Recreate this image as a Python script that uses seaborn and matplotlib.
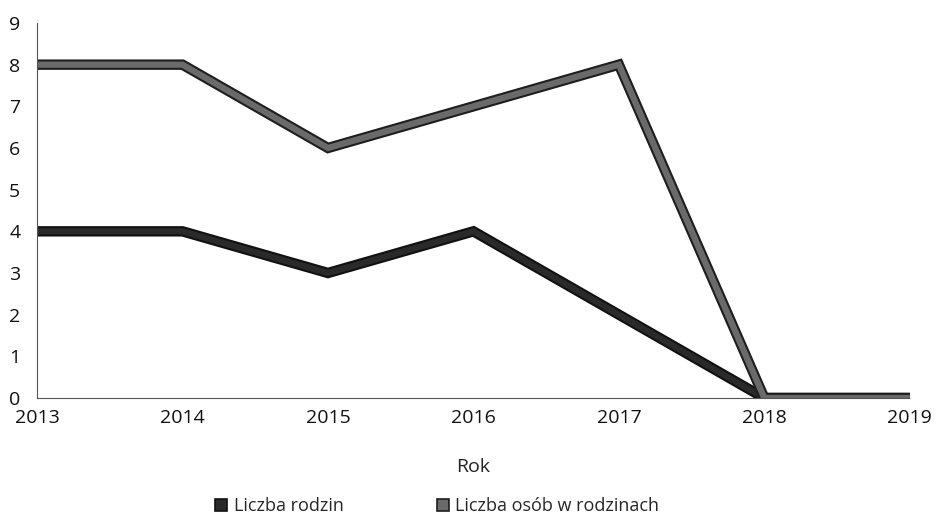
import matplotlib
matplotlib.use("Agg")
import matplotlib.pyplot as plt
import matplotlib.patheffects as pe
from matplotlib.lines import Line2D
import seaborn as sns
import pandas as pd

years = [2013, 2014, 2015, 2016, 2017, 2018, 2019]
rodziny = [4, 4, 3, 4, 2, 0, 0]
osoby = [8, 8, 6, 7, 8, 0, 0]
series_names = ["Liczba rodzin", "Liczba osób w rodzinach"]
yticks = list(range(0, 10))

sns.set_theme(style="white")
plt.rcParams['font.family'] = ['Open Sans', 'DejaVu Sans']

df = pd.DataFrame({
    "Rok": years * 2,
    "value": rodziny + osoby,
    "series": [series_names[0]] * len(years) + [series_names[1]] * len(years),
})

fig = plt.figure(figsize=(9.37, 5.2), dpi=100)
ax = fig.add_axes([0.0395, 0.2346, 0.9315, 0.7212])

fills = {series_names[0]: "#2a2a2a", series_names[1]: "#6a6a6a"}
edges = {series_names[0]: "#111111", series_names[1]: "#1e1e1e"}

sns.lineplot(data=df, x="Rok", y="value", hue="series", palette=fills,
             ax=ax, linewidth=4.5, legend=False, sort=False)
for line, name in zip(ax.get_lines(), series_names):
    line.set_path_effects([pe.Stroke(linewidth=7.5, foreground=edges[name]), pe.Normal()])
    line.set_solid_joinstyle("miter")
    line.set_solid_capstyle("butt")

ax.set_xlim(2013, 2019)
ax.set_ylim(0, 9)
ax.set_xticks(years)
ax.set_xticklabels([str(y) for y in years], fontsize=14)
ax.set_yticks(yticks)
ax.set_yticklabels([str(v) for v in yticks], fontsize=14)
ax.tick_params(axis="both", length=0, colors="#111111")
ax.tick_params(axis="x", pad=8)
ax.tick_params(axis="y", pad=12)
ax.set_ylabel("")
ax.set_xlabel("Rok", fontsize=14, labelpad=22, color="#222222")
for s in ["top", "right"]:
    ax.spines[s].set_visible(False)
for s in ["left", "bottom"]:
    ax.spines[s].set_color("#555555")
    ax.spines[s].set_linewidth(0.8)
    ax.spines[s].set_linestyle((0, (2, 1)))

handles = [Line2D([0], [0], marker="s", linestyle="none", markersize=9,
                  markerfacecolor=fills[n], markeredgecolor=edges[n], markeredgewidth=1.2)
           for n in series_names]
fig.legend(handles, series_names, loc="lower center", bbox_to_anchor=(0.465, -0.022),
           ncol=2, frameon=False, fontsize=13, handletextpad=0.2, columnspacing=5.0,
           handlelength=1.0)

fig.savefig("out.png", dpi=100)
